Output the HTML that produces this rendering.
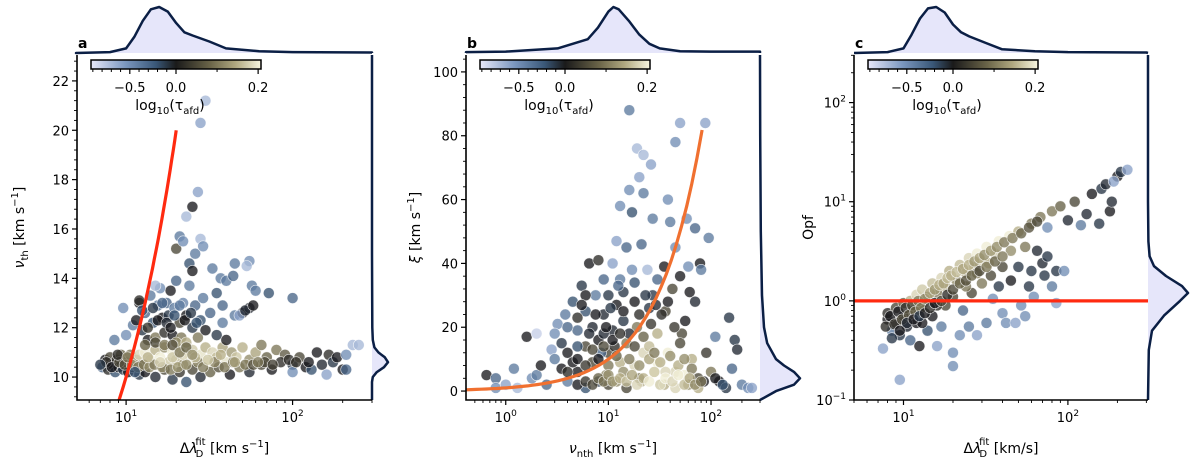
<!DOCTYPE html>
<html><head><meta charset="utf-8"><style>
html,body{margin:0;padding:0;background:#fff;}
svg text{font-family:"DejaVu Sans","Liberation Sans",sans-serif;fill:#000;}
</style></head><body>
<svg id="fig" width="1200" height="471" viewBox="0 0 1200 471" xmlns="http://www.w3.org/2000/svg">
<defs>
<linearGradient id="cbg" x1="0" x2="1" y1="0" y2="0">
<stop offset="0" stop-color="#e8e8fa"/><stop offset="0.2" stop-color="#7c98c0"/><stop offset="0.38" stop-color="#3a5878"/><stop offset="0.5" stop-color="#1a1a1a"/><stop offset="0.7" stop-color="#6a6448"/><stop offset="0.85" stop-color="#b0a880"/><stop offset="1" stop-color="#f8f6e0"/>
</linearGradient>
</defs>
</svg>
<script>
// ---- data: panel a ----
const aX=[7.2,7.5,7.8,8,8.3,8.6,8.8,9,9.3,9.6,10,10.3,10.6,11,11.5,12,12.5,
12,13,14,15,16,17,18,19,20,21,22,24,25,26,28,30,31,33,35,38,40,43,46,50,55,60,65,70,80,90,
13,15,17,19,21,23,25,28,32,36,42,48,55,65,75,85,100,110,120,130,140,150,165,175,185,160,200,210,230,250,210,100,
10,11,12,12.5,13,13.5,14,14.5,15,15.5,16,16.5,17,17.5,18,18.5,19,19.5,20,21,21.5,22,23,24,25,26,27,28,29,30,32,35,38,40,45,50,55,20,23,
9.6,8.5,12,15,20,21,22,23,25,27,28,30,24,25,26,28,29,33,37,40,45,44,55,53,57,60,72,100,48,52,58,35,38,
7.6,8.2,9.1,9.8,10.8,11.8,12.8,13.8,14.8,16.5,18.5,20.5,23,27,29,34,39,44,52,58,68,76,95,105,125,7,8.9,10.2,11.3,13.5,16,19,22,26,31,37,45,62,
11.5,12.5,13.5,14.5,15.5,16.5,17.5,18.5,19.5,21,22.5,24.5,26.5,13,15,17,19,21,23,25];
const aY=[10.4,10.7,10.3,10.8,10.5,10.2,10.7,10.4,10.9,10.3,10.6,10.2,10.9,10.4,10.7,10.1,10.5,
10.9,11.0,10.7,11.1,10.8,11.2,10.6,11.0,10.7,11.2,10.5,10.9,11.1,10.6,10.9,11.2,10.6,11.0,10.8,11.2,10.6,11.0,10.8,11.2,10.7,11.0,11.3,10.8,11.1,10.9,
10.2,10.0,10.3,9.9,10.2,9.8,10.3,10.0,10.2,10.4,10.1,10.4,10.2,10.5,10.3,10.6,10.5,10.8,10.4,10.3,11.0,10.5,10.9,10.6,10.8,10.1,10.3,10.9,11.3,11.3,10.3,10.2,
11.7,12.1,13.0,11.9,12.6,11.5,13.3,12.2,11.6,12.9,13.6,12.4,11.8,13.0,12.5,13.5,11.7,12.8,13.9,12.2,11.6,13.0,12.5,13.7,12.0,12.9,11.6,12.3,13.2,11.9,12.6,11.7,12.2,11.5,12.5,12.6,12.8,11.4,11.4,
12.8,11.5,13.1,13.7,15.2,15.7,15.5,16.5,16.9,17.5,20.3,21.2,14.6,14.3,15.0,15.6,15.3,14.4,14.0,13.9,14.6,14.1,14.7,14.5,13.7,13.5,13.4,13.2,12.5,12.7,12.9,13.4,12.9,
10.6,10.4,10.6,10.5,10.5,10.4,10.5,10.4,10.5,10.4,10.3,10.4,10.5,10.6,10.4,10.6,10.4,10.6,10.5,10.5,10.6,10.5,10.7,10.6,10.6,10.5,10.9,10.8,10.2,10.8,10.6,10.8,10.9,10.8,10.7,10.9,10.6,10.6,
12.3,12.7,12.0,12.8,12.3,13.0,12.2,12.0,12.5,12.9,12.3,12.6,12.2,11.3,11.4,11.3,11.3,11.0,11.2,10.9];
const aC=[-0.3,0,0.02,0.05,0,-0.2,0.03,0,0.08,-0.1,0.05,0,0.1,0.02,0.12,-0.1,0.08,
0.18,0.2,0.19,0.15,0.2,0.12,0.17,0.2,0.16,0.18,0.12,0.2,0.17,0.2,0.19,0.15,0.2,0.18,0.16,0.14,0.19,0.13,0.17,0.15,0.12,0.14,0.1,0.08,0.1,0.07,
0,-0.05,0.05,-0.1,0.03,-0.2,0.05,-0.05,0.08,0.06,0,0.1,-0.05,0.05,0,0.02,-0.1,0.05,0,-0.2,0,-0.05,0.02,-0.1,0,-0.6,0,-0.5,-0.7,-0.7,-0.3,-0.5,
-0.5,-0.4,0,-0.1,-0.3,0,-0.4,-0.2,0.1,-0.35,-0.5,0,0.02,-0.3,-0.1,0,0,-0.4,-0.3,0.05,0.1,-0.45,0,-0.4,-0.1,-0.3,0.1,-0.2,-0.4,0,-0.3,-0.1,-0.4,0,-0.4,0,-0.05,0.12,0.15,
-0.5,-0.4,0.02,-0.7,0.05,-0.4,-0.5,-0.7,0,-0.6,-0.6,-0.7,-0.2,0,-0.4,-0.7,-0.5,-0.4,-0.4,-0.4,-0.4,-0.3,-0.5,-0.7,-0.4,-0.4,-0.2,-0.3,-0.6,-0.05,0,-0.2,-0.3,
0.02,0,0.05,0.06,0.12,0.1,0.1,0.12,0.1,0.12,0.1,0.13,0.12,0.1,0.1,0.11,0.1,0.08,0.1,0.06,0.05,0.04,0.02,0.03,0,-0.1,0.02,0.1,-0.2,0.15,0.18,0.17,0.18,0.16,0.17,0.15,0.14,0.1,
0,-0.2,0.03,-0.1,0,-0.3,-0.05,0,-0.2,-0.4,0,-0.1,-0.2,0.08,0.05,0.1,0.06,0.1,0.08,0.12];
// ---- data: panel b ----
const bX=[0.65,0.8,0.8,1.0,1.2,1.3,1.6,1.8,2,2,2.2,2.5,2.8,3,3.2,3.5,3.8,4,4.5,5,5,5.5,6,6,6.5,7,7,7.5,8,8,9,9,9.5,10,10,11,11,12,12,13,13,13,14,15,15,16,16,17,17,18,18,19,19,20,21,21,22,22,22,24,25,26,27,28,30,30,32,35,36,38,38,40,42,45,45,45,50,50,52,55,58,60,62,65,70,70,75,78,80,88,95,100,110,120,150,160,170,180,200,230,250,140,90,30,25,35,20,15,10,8,6,4,12,45,60,6,5,9,14,27,
3,3.5,4,4.5,5,5.5,6.5,7.5,8.5,9.5,10.5,11.5,12.5,14,16,18,20,23,26,29,33,38,44,50,56,4,5,6,7,8,9,10,11,12,13,14,16,18,20,22,25,28,32,36,40,48,55,65,75,85,
5,6,7,8,9,10,11,13,15,17,19,22,25,28,32,36,42,48,55,62,70,80,110,130];
const bY=[5,4,1,2,7,1,17,4,18,5,8,2,13,10,21,15,24,12,28,6,19,33,14,25,40,20,9,30,41,16,35,24,5,12,30,40,19,47,27,9,58,35,22,45,15,88,63,56,38,28,8,76,20,67,46,3,74,62,12,38,26,71,54,6,35,18,2,39,25,60,12,53,32,78,45,6,84,36,18,5,54,39,31,10,51,28,1,40,38,84,48,6,17,3,23,7,16,13,2,1,1,1,12,9,14,2,4,1,2,3,1,3,3,1,2,30,23,18,31,30,
18,7,20,9,14,27,18,24,12,20,26,14,33,25,18,34,24,30,21,27,24,28,20,15,22,6,10,8,13,10,14,8,16,11,18,6,10,14,8,17,10,12,9,6,11,8,10,7,4,3,
2,3,2,4,3,5,3,4,3,5,2,4,3,6,2,4,3,5,2,4,2,3,4,2];
const bC=[0,-0.3,-0.5,-0.6,-0.4,-0.7,0,-0.5,-0.8,-0.4,0,-0.3,-0.6,-0.4,-0.5,-0.1,-0.4,0,-0.2,0,-0.3,-0.1,0.05,-0.2,0,-0.05,0.05,-0.4,0.02,0,-0.3,-0.05,0.12,0.05,-0.1,-0.6,-0.05,-0.6,0,0.15,-0.5,-0.4,-0.1,-0.3,0.1,-0.4,-0.5,-0.2,-0.5,0,0.18,-0.7,0.1,-0.6,-0.3,0.15,-0.7,-0.4,0.18,-0.7,-0.1,-0.6,-0.4,0.2,-0.3,0.15,0.12,0,0.05,-0.5,0.2,-0.4,0.05,-0.5,-0.5,0.18,-0.6,0,0.05,0.2,-0.5,-0.5,0,0.15,-0.3,-0.05,0.15,0,-0.4,-0.6,-0.4,0.1,-0.4,0,-0.1,-0.3,-0.1,-0.05,-0.4,-0.5,-0.6,-0.1,0.03,0.2,0.16,0.15,0.1,0.05,0.05,-0.1,-0.2,-0.4,0.12,0.18,0.12,0,0.02,-0.05,-0.1,-0.1,
-0.5,0,-0.3,0,-0.2,0,-0.05,0,-0.3,0,-0.1,0.02,-0.3,0,-0.05,-0.2,0.02,-0.1,0.03,-0.05,0.02,0,0.03,0.05,0,0.02,0,0.03,0.05,0,0.05,0.1,0,0.08,0.02,0.12,0.1,0.05,0.12,0.08,0.14,0.1,0.15,0.18,0.12,0.15,0.12,0.1,0.05,0,
0,0.03,0.05,0.08,0.1,0.12,0.13,0.15,0.16,0.14,0.18,0.15,0.2,0.17,0.19,0.2,0.18,0.2,0.16,0.14,0.12,0.1,0,-0.2];
// ---- data: panel c ----
const cX=[7.5,8,8.5,8,9,9,9.5,9.5,10,10,10.5,11,11,11.5,12,12,12.5,13,13,14,14,15,15,16,16,17,17,18,18,19,20,20,20,21,22,22,23,24,25,25,26,27,28,28,30,30,32,32,34,35,36,38,38,40,40,42,44,45,45,48,50,50,52,55,55,58,60,60,62,65,68,70,72,75,75,80,80,85,85,90,95,100,110,120,130,140,155,160,170,180,185,200,210,230,190,16,13,24,33,28,
7.8,8.3,8.8,9.3,9.8,10.3,10.8,11.3,11.8,12.3,12.8,13.5,14.5,15.5,16.5,17.5,18.5,19.5,21,23,25,27,29,31,34,37,41,46,52,58,65,8.5,9.5,10.5,11.5,12.5,13.5,14.5,15.5,17,18.5,20,22,24,26,29,32,36,40];
const cY=[0.33,0.65,0.5,0.75,0.6,0.85,0.16,0.45,0.7,0.95,0.55,1.0,0.4,0.8,1.15,0.6,0.35,0.9,1.3,0.5,1.1,1.5,0.7,0.35,1.2,0.55,1.7,0.9,1.4,2.0,0.3,0.22,1.1,1.6,2.3,0.45,0.8,1.9,2.7,0.55,1.2,2.2,3.0,0.45,1.5,2.5,3.5,0.6,1.8,1.05,3.0,4.0,1.4,2.2,0.75,0.6,4.5,1.6,3.2,0.6,5.0,2.2,0.9,3.5,0.7,1.4,6.0,2.0,1.1,3.2,7.0,2.4,1.8,5.5,2.8,8.0,1.4,2.0,0.95,9.0,2.0,6.5,10,5.8,7.5,12,6.0,13.5,15,8,10,18,20,21,16,0.9,0.6,1.4,2.4,1.9,
0.55,0.7,0.58,0.78,0.65,0.85,0.72,0.9,0.78,1.0,0.85,1.05,1.2,1.3,1.45,1.5,1.7,1.8,1.95,2.1,2.3,2.5,2.7,2.9,3.2,3.5,3.9,4.3,4.8,5.5,6.3,0.42,0.5,0.6,0.65,0.7,0.75,0.85,0.95,1.0,1.15,1.3,1.5,1.6,1.8,2.0,2.2,2.5,2.8];
const cC=[-0.6,0,-0.4,0.02,0,0.05,-0.6,-0.1,0,0.08,-0.05,0.15,-0.3,0.02,0.18,0,0,0.05,0.17,-0.2,0.1,0.16,0,-0.6,0.1,-0.4,0.18,0.05,0.15,0.15,-0.5,-0.5,0.05,0.12,0.16,-0.5,-0.3,0.15,0.18,-0.4,0.05,0.15,0.2,-0.6,0.1,0.18,0.2,-0.4,0.05,-0.5,0.17,0.2,-0.1,0.05,-0.5,-0.5,0.2,0,0.12,-0.6,0.15,-0.1,-0.5,0.1,-0.5,-0.1,0.1,-0.1,-0.5,-0.05,0.1,-0.05,-0.1,-0.5,-0.1,0.1,-0.4,-0.1,-0.6,0.08,-0.5,-0.05,0.05,-0.4,-0.05,0,-0.1,-0.1,-0.05,0,-0.05,0,-0.1,-0.6,-0.6,0.02,0,0.1,0.15,0.1,
0.02,0,0.03,0,0.05,0.02,0.06,0.05,0.08,0.1,0.1,0.12,0.14,0.13,0.15,0.14,0.16,0.15,0.16,0.14,0.15,0.13,0.14,0.12,0.13,0.12,0.1,0.1,0.08,0.06,0.05,-0.1,0,-0.05,0,-0.1,0,0.02,0,0.05,0.02,0.05,0.08,0.06,0.08,0.05,0.1,0.08,0.1];
// ---- marginal KDE data ----
const kTopA_x=[5,8,10,11.2,12.6,14.1,15.8,17.8,20,22.4,25.1,31.6,39.8,63,100,300];
const kTopA_d=[0,0.02,0.1,0.35,0.7,0.95,1.0,0.9,0.65,0.45,0.38,0.25,0.1,0.04,0.02,0.01];
const kRightA_y=[9.07,9.8,10.0,10.2,10.4,10.6,10.8,11.0,11.2,11.5,12,13,15,23];
const kRightA_d=[0,0,0.05,0.3,0.75,1.0,0.8,0.4,0.15,0.05,0.02,0.01,0,0];
const kTopB_x=[0.41,1,3.2,6.3,7.9,10,11.2,12.6,15.8,20,25.1,31.6,50,100,300];
const kTopB_d=[0.02,0.03,0.1,0.3,0.55,0.9,1.0,0.95,0.7,0.4,0.2,0.1,0.04,0.03,0.03];
const kRightB_y=[-2.8,0,2,4,6,8,10,15,20,30,50,80,105];
const kRightB_d=[0,0.4,0.85,1.0,0.85,0.6,0.4,0.18,0.1,0.05,0.02,0.005,0];
const kTopC_x=[5,8,10,11.2,12.6,14.1,15.8,17.8,20,22.4,25.1,31.6,39.8,63,100,300];
const kTopC_d=[0,0.02,0.1,0.4,0.75,0.97,1.0,0.88,0.62,0.45,0.36,0.22,0.08,0.04,0.02,0.01];
const kRightC_y=[0.1,0.32,0.5,0.71,1,1.2,1.41,1.78,2.24,2.82,3.98,10,31.6,300];
const kRightC_d=[0,0.02,0.1,0.4,0.8,1.0,0.85,0.45,0.15,0.04,0.01,0,0,0];
const cbTicks=[-0.5,0.0,0.2];

const NS='http://www.w3.org/2000/svg';
const svg=document.getElementById('fig');
function mk(tag,attrs,parent){const e=document.createElementNS(NS,tag);for(const k in attrs)e.setAttribute(k,attrs[k]);(parent||svg).appendChild(e);return e;}
const VMIN=-0.92,VMAX=0.207;
const stops=[[0,[232,232,250]],[0.2,[124,152,192]],[0.38,[58,88,120]],[0.5,[26,26,30]],[0.7,[106,100,72]],[0.85,[176,168,128]],[1,[248,246,224]]];
function cpos(c){return c<0?0.5*(c-VMIN)/(-VMIN):0.5+0.5*c/VMAX;}
function cmap(c){let p=Math.max(0,Math.min(1,cpos(c)));for(let i=1;i<stops.length;i++){if(p<=stops[i][0]){const a=stops[i-1],b=stops[i],t=(p-a[0])/(b[0]-a[0]);const r=a[1].map((v,j)=>Math.round(v+(b[1][j]-v)*t));return 'rgb('+r.join(',')+')';}}return 'rgb(248,246,224)';}

const T=55,B=400;
function panel(o){
  const g=mk('g',{});  
  const lx0=Math.log10(o.xmin),lx1=Math.log10(o.xmax);
  const sx=v=>o.L+(Math.log10(v)-lx0)/(lx1-lx0)*(o.R-o.L);
  let sy;
  if(o.ylog){const a=Math.log10(o.ymin),b=Math.log10(o.ymax);sy=v=>B-(Math.log10(v)-a)/(b-a)*(B-T);}
  else sy=v=>B-(v-o.ymin)/(o.ymax-o.ymin)*(B-T);
  let d='M'+o.L+','+(T-2);
  o.ktx.forEach((v,i)=>{d+=' L'+sx(v).toFixed(1)+','+(T-2-o.ktd[i]*46).toFixed(1);});
  d+=' L'+o.R+','+(T-2)+' Z';
  const kt=mk('path',{d:d,fill:'#e6e6fa',stroke:'none'},g);
  
  let d2='M'+o.L+','+(T-2);o.ktx.forEach((v,i)=>{d2+=' L'+sx(v).toFixed(1)+','+(T-2-o.ktd[i]*46).toFixed(1);});d2+=' L'+o.R+','+(T-2);
  const kl=mk('path',{d:d2,fill:'none',stroke:'#0b1f45','stroke-width':2.5,'stroke-linejoin':'round'},g);
  
  let r='M'+o.R+','+B; o.kry.forEach((v,i)=>{let y=Math.max(T,Math.min(B,sy(v)));r+=' L'+(o.R+o.krd[i]*o.kw).toFixed(1)+','+y.toFixed(1);}); r+=' L'+o.R+','+T;
  const rf=mk('path',{d:r+' Z',fill:'#e6e6fa',stroke:'none'},g);
  
  const rl=mk('path',{d:r,fill:'none',stroke:'#0b1f45','stroke-width':2.5,'stroke-linejoin':'round'},g);
  
  const cid='clip'+o.id; const cp=mk('clipPath',{id:cid},g); mk('rect',{x:o.L,y:T,width:o.R-o.L,height:B-T},cp);
  const pts=mk('g',{'clip-path':'url(#'+cid+')'},g);
  
  o.px.forEach((v,i)=>{const c=mk('circle',{cx:sx(v).toFixed(1),cy:sy(o.py[i]).toFixed(1),r:5.5,fill:cmap(o.pc[i]),'fill-opacity':0.78,stroke:'#fff','stroke-width':0.6,'stroke-opacity':0.8},pts);
    });
  const ln=mk('path',{d:o.line(sx,sy),fill:'none',stroke:o.lc,'stroke-width':3.2},pts);
  
  const sp=mk('path',{d:'M'+o.L+','+T+' V'+B+' H'+o.R,fill:'none',stroke:'#000','stroke-width':1.6},g);
  
  for(let e=-1;e<=2;e++){for(let m=1;m<10;m++){const v=m*Math.pow(10,e);if(v<o.xmin||v>o.xmax)continue;const X=sx(v);
    mk('line',{x1:X,x2:X,y1:B,y2:B+(m==1?5:3),stroke:'#000','stroke-width':m==1?1.2:0.9},g);
    if(m==1){const t=mk('text',{x:X,y:B+22,'text-anchor':'middle','font-size':13},g);t.textContent='10';
      const s=mk('tspan',{dy:-6,'font-size':9},t);s.textContent=String(e).replace('-','\u2212');
      }}}
  if(o.ylog){for(let e=-1;e<=2;e++){for(let m=1;m<10;m++){const v=m*Math.pow(10,e);if(v<o.ymin-1e-9||v>o.ymax)continue;const Y=sy(v);
    mk('line',{x1:o.L,x2:o.L-(m==1?5:3),y1:Y,y2:Y,stroke:'#000','stroke-width':m==1?1.2:0.9},g);
    if(m==1){const t=mk('text',{x:o.L-8,y:Y+5,'text-anchor':'end','font-size':13},g);t.textContent='10';
      const s=mk('tspan',{dy:-6,'font-size':9},t);s.textContent=String(e).replace('-','\u2212');
      }}}}
  else{for(let v=Math.ceil(o.ymin/o.minor)*o.minor;v<=o.ymax;v+=o.minor){const Y=sy(v);const maj=Math.abs(v/o.major-Math.round(v/o.major))<1e-6;
    mk('line',{x1:o.L,x2:o.L-(maj?5:3),y1:Y,y2:Y,stroke:'#000','stroke-width':maj?1.2:0.9},g);
    if(maj){const t=mk('text',{x:o.L-8,y:Y+5,'text-anchor':'end','font-size':13},g);t.textContent=String(Math.round(v));
      }}}
  const cx0=o.L+14,cw=170;
  const cb=mk('rect',{x:cx0,y:60,width:cw,height:9,fill:'url(#cbg)',stroke:'#000','stroke-width':1.5},g);
  
  [-0.9,-0.8,-0.7,-0.6,-0.4,-0.3,-0.2,-0.1,0.1].forEach(v=>{const X=cx0+cpos(v)*cw;mk('line',{x1:X,x2:X,y1:69,y2:72,stroke:'#000','stroke-width':1},g);});
  cbTicks.forEach(v=>{const X=cx0+cpos(v)*cw;mk('line',{x1:X,x2:X,y1:69,y2:74,stroke:'#000','stroke-width':1.2},g);
    const t=mk('text',{x:X,y:92,'text-anchor':'middle','font-size':13},g);t.textContent=v.toFixed(1).replace('-','\u2212');
    });
  const cl=mk('text',{x:cx0+cw/2-6,y:110,'text-anchor':'middle','font-size':14},g);
  cl.innerHTML='log<tspan font-size="10" dy="4">10</tspan><tspan dy="-4">(τ</tspan><tspan font-size="10" dy="4">afd</tspan><tspan dy="-4">)</tspan>';
  
  const pl=mk('text',{x:o.L+1,y:48,'font-size':14,'font-weight':'bold'},g);pl.textContent=o.id;
  
  const xl=mk('text',{x:(o.L+o.R)/2,y:453,'text-anchor':'middle','font-size':14},g);xl.innerHTML=o.xlab;
  
  const yl=mk('text',{x:0,y:0,'text-anchor':'middle','font-size':14,transform:'translate('+o.ylx+','+((T+B)/2)+') rotate(-90)'},g);yl.innerHTML=o.ylab;
  
}
const dl='Δ<tspan font-style="italic">λ</tspan><tspan font-size="10" dy="4" dx="-2">D</tspan><tspan font-size="10" dy="-12" dx="-8">fit</tspan><tspan dy="8">';
panel({id:'a',name:'panel-a',L:77,R:372,xmin:5.07,xmax:300,ymin:9.07,ymax:23.05,major:2,minor:0.4,px:aX,py:aY,pc:aC,
 ktx:kTopA_x,ktd:kTopA_d,kry:kRightA_y,krd:kRightA_d,kw:16,lc:'#ff2a10',
 line:(sx,sy)=>{let s='';for(let v=8.8;v<=20.01;v+=0.4){s+=(s?' L':'M')+sx(v).toFixed(1)+','+sy(v).toFixed(1);}return s;},
 xlab:dl+' [km s</tspan><tspan font-size="10" dy="-6">−1</tspan><tspan dy="6">]</tspan>',
 ylab:'<tspan font-style="italic">ν</tspan><tspan font-size="10" dy="4">th</tspan><tspan dy="-4"> [km s</tspan><tspan font-size="10" dy="-6">−1</tspan><tspan dy="6">]</tspan>',ylx:24});
panel({id:'b',name:'panel-b',L:466,R:760,xmin:0.41,xmax:300,ymin:-2.8,ymax:105.3,major:20,minor:4,px:bX,py:bY,pc:bC,
 ktx:kTopB_x,ktd:kTopB_d,kry:kRightB_y,krd:kRightB_d,kw:40,lc:'#f07030',
 line:(sx,sy)=>{let s='';for(let l=Math.log10(0.41);l<=Math.log10(90)+1e-6;l+=0.05){const v=Math.pow(10,l);s+=(s?' L':'M')+sx(v).toFixed(1)+','+sy(v).toFixed(1);}return s;},
 xlab:'<tspan font-style="italic">ν</tspan><tspan font-size="10" dy="4">nth</tspan><tspan dy="-4"> [km s</tspan><tspan font-size="10" dy="-6">−1</tspan><tspan dy="6">]</tspan>',
 ylab:'<tspan font-style="italic">ξ</tspan> [km s<tspan font-size="10" dy="-6">−1</tspan><tspan dy="6">]</tspan>',ylx:420});
panel({id:'c',name:'panel-c',L:854,R:1148,xmin:5.0,xmax:307,ymin:0.1,ymax:302,ylog:true,px:cX,py:cY,pc:cC,
 ktx:kTopC_x,ktd:kTopC_d,kry:kRightC_y,krd:kRightC_d,kw:40,lc:'#ff2a10',
 line:(sx,sy)=>'M'+sx(5.0)+','+sy(1)+' L'+sx(307)+','+sy(1),
 xlab:dl+' [km/s]</tspan>',ylab:'Opf',ylx:813});
</script>
</body></html>
